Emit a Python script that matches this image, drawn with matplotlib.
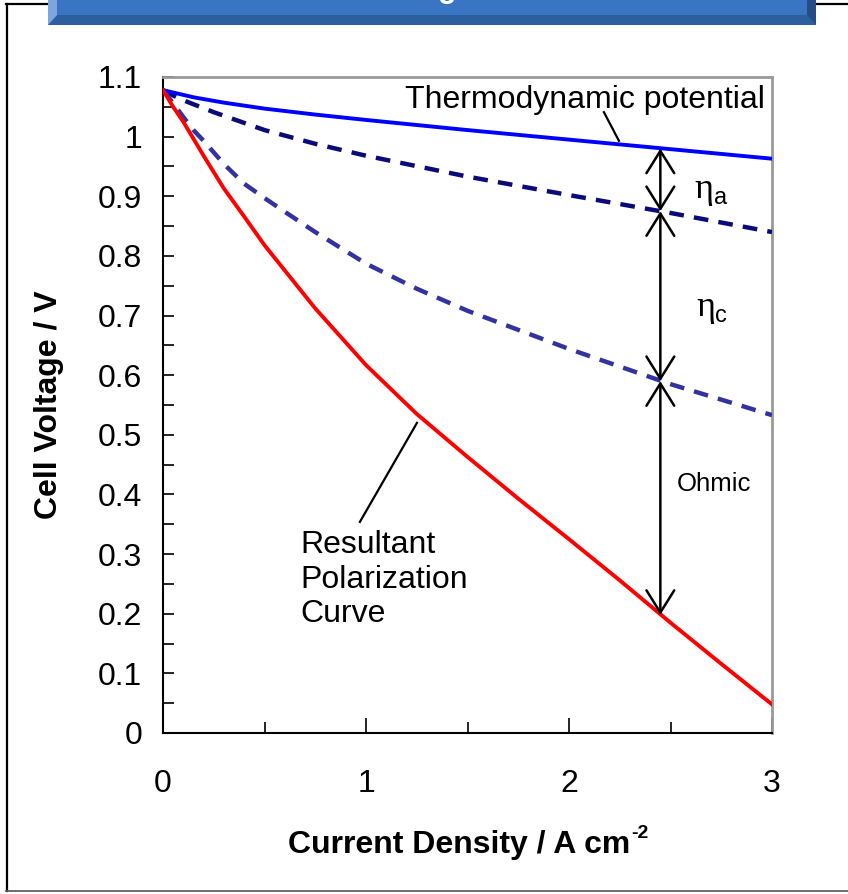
import numpy as np
import matplotlib
matplotlib.use("Agg")
from matplotlib import pyplot as plt
from matplotlib.patches import Polygon, Rectangle
from matplotlib.lines import Line2D

plt.rcParams['font.family'] = ['Liberation Sans', 'DejaVu Sans']

# values (current density A/cm2, voltage V)
j_thermo = [0, 0.15, 0.3, 0.5, 0.75, 1.0, 1.5, 2.0, 2.5, 3.0]
v_thermo = [1.078, 1.066, 1.057, 1.047, 1.037, 1.028, 1.011, 0.995, 0.979, 0.963]

j_anode = [0, 0.05, 0.1, 0.25, 0.5, 0.75, 1.0, 1.5, 2.0, 2.5, 3.0]
v_anode = [1.078, 1.069, 1.061, 1.041, 1.011, 0.988, 0.968, 0.933, 0.902, 0.872, 0.840]

j_cathode = [0, 0.05, 0.1, 0.15, 0.2, 0.3, 0.4, 0.5, 0.6, 0.75, 1.0, 1.25, 1.5, 2.0, 2.5, 3.0]
v_cathode = [1.078, 1.056, 1.033, 1.011, 0.993, 0.954, 0.921, 0.897, 0.874, 0.840, 0.787, 0.745, 0.708, 0.644, 0.585, 0.533]

j_result = [0, 0.05, 0.1, 0.2, 0.3, 0.4, 0.5, 0.75, 1.0, 1.25, 1.5, 1.75, 2.0, 2.25, 2.5, 2.75, 3.0]
v_result = [1.078, 1.050, 1.025, 0.968, 0.913, 0.866, 0.818, 0.712, 0.617, 0.535, 0.463, 0.393, 0.325, 0.256, 0.185, 0.116, 0.048]

j_mark = 2.45
v_marks = [0.980, 0.875, 0.590, 0.198]

fig = plt.figure(figsize=(8.48, 8.94), dpi=100)

def fx(p):
    return p / 848
def fy(p):
    return 1 - p / 894

# outer frame
fig.add_artist(Line2D([fx(7), fx(7)], [fy(891), fy(4)], color='black', lw=1.6))
fig.add_artist(Line2D([fx(6), fx(848)], [fy(4), fy(4)], color='black', lw=1.6))
fig.add_artist(Line2D([fx(6), fx(848)], [fy(891), fy(891)], color='#555555', lw=1.2))

# title banner (cut off at the top)
fig.add_artist(Rectangle((fx(48), fy(25)), fx(816) - fx(48), fy(0) - fy(25),
                         facecolor='#3a75c4', edgecolor='none', zorder=5))
fig.add_artist(Polygon([(fx(48), fy(25)), (fx(816), fy(25)), (fx(807), fy(15)), (fx(57), fy(15))],
                       facecolor='#2d5f9f', edgecolor='none', zorder=6))
fig.add_artist(Polygon([(fx(48), fy(0)), (fx(57), fy(0)), (fx(57), fy(15)), (fx(48), fy(25))],
                       facecolor='#7ea5dc', edgecolor='none', zorder=6))
fig.add_artist(Polygon([(fx(807), fy(0)), (fx(816), fy(0)), (fx(816), fy(25)), (fx(807), fy(15))],
                       facecolor='#244d87', edgecolor='none', zorder=6))
fig.text(fx(447), 1 + 3/894, 'g', color='white', fontsize=22, fontweight='bold',
         ha='center', va='baseline', zorder=7)

ax = fig.add_axes([163/848, 161/894, 609/848, 656/894])

ax.plot(j_thermo, v_thermo, color='#0000ff', lw=2.8, zorder=4)
ax.plot(j_anode, v_anode, color='#0a0a78', lw=3.2, dashes=(3.3, 2.3), zorder=3)
ax.plot(j_cathode, v_cathode, color='#3333a0', lw=3.2, dashes=(3.3, 2.3), zorder=3)
ax.plot(j_result, v_result, color='#ff0000', lw=2.8, zorder=4)

ax.set_xlim(0, 3)
ax.set_ylim(0, 1.1)
ax.set_xticks([0, 1, 2, 3])
ax.set_xticks([0.5, 1.5, 2.5], minor=True)
ax.set_yticks(np.round(np.arange(0, 1.11, 0.1), 1))
ax.set_yticklabels(['0', '0.1', '0.2', '0.3', '0.4', '0.5', '0.6', '0.7', '0.8', '0.9', '1', '1.1'])
ax.set_yticks(np.arange(0.05, 1.1, 0.1), minor=True)
ax.tick_params(axis='both', which='both', direction='in', labelsize=23, width=1.2,
               top=False, right=False)
ax.tick_params(axis='x', which='major', length=11, pad=26)
ax.tick_params(axis='x', which='minor', length=8)
ax.tick_params(axis='y', which='both', length=8, pad=15)

ax.spines['left'].set_color('black')
ax.spines['bottom'].set_color('black')
ax.spines['left'].set_linewidth(1.5)
ax.spines['bottom'].set_linewidth(1.5)
for s in ['top', 'right']:
    ax.spines[s].set_color('#999999')
    ax.spines[s].set_linewidth(2)

ax.set_ylabel('Cell Voltage / V', fontsize=23, fontweight='bold', labelpad=24)

# x label with a small "-2" superscript
xl = fig.text(0.5, fy(845), 'Current Density / A cm', fontsize=23, fontweight='bold',
              ha='left', va='center')
sup = fig.text(0.5, fy(834), '-2', fontsize=14, fontweight='bold', ha='left', va='center')
fig.canvas.draw()
r = fig.canvas.get_renderer()
w1 = xl.get_window_extent(r).width
w2 = sup.get_window_extent(r).width
start = (163 + 772) / 2 - (w1 + w2) / 2
xl.set_x(fx(start))
sup.set_x(fx(start + w1 + 1))

# double arrows between the curves
arrow_kw = dict(arrowstyle='<->,head_length=0.8,head_width=0.5', color='black', lw=1.8,
                mutation_scale=20, shrinkA=0, shrinkB=0)
for top, bot in zip(v_marks[:-1], v_marks[1:]):
    ax.annotate('', xy=(j_mark, bot), xytext=(j_mark, top), arrowprops=arrow_kw, zorder=5)

# labels
ax.text(2.966, 1.061, 'Thermodynamic potential', fontsize=23, ha='right', va='center')
ax.plot([2.172, 2.246], [1.041, 0.993], color='black', lw=1.6)

ax.text(0.675, 0.257, 'Resultant\nPolarization\nCurve', fontsize=23, ha='left', va='center',
        linespacing=1.2)
ax.plot([0.97, 1.251], [0.354, 0.52], color='black', lw=1.6)

ax.text(2.62, 0.912, '\u03b7', fontsize=26, family='Liberation Serif', ha='left', va='center')
ax.text(2.715, 0.897, 'a', fontsize=17, ha='left', va='center')
ax.text(2.625, 0.713, '\u03b7', fontsize=26, family='Liberation Serif', ha='left', va='center')
ax.text(2.72, 0.700, 'c', fontsize=17, ha='left', va='center')
ax.text(2.532, 0.4175, 'Ohmic', fontsize=18.5, ha='left', va='center')

fig.savefig('out.png', dpi=100)
